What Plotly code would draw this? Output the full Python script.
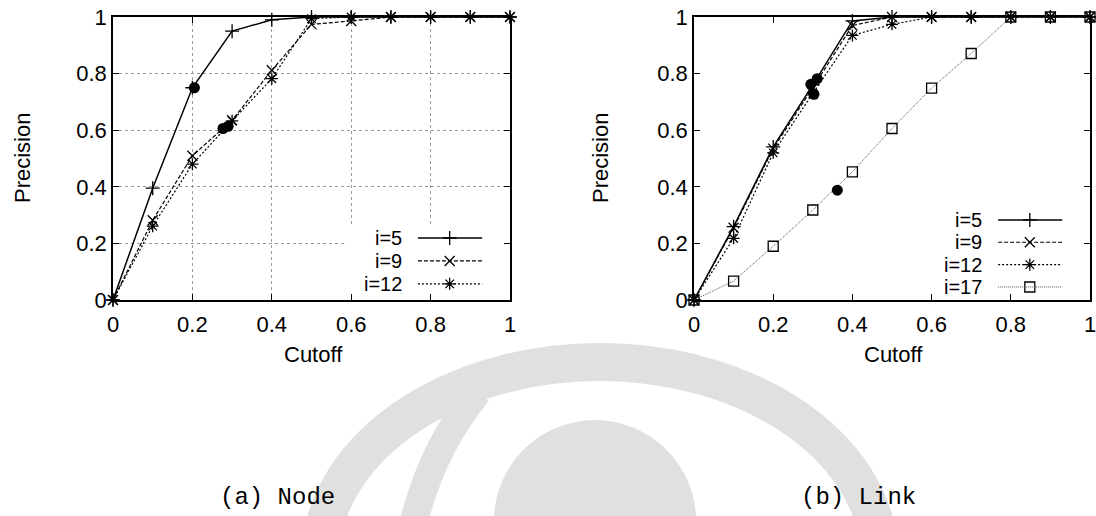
import plotly.graph_objects as go

# ---------------- data ----------------
cutoff = [0.0, 0.1, 0.2, 0.3, 0.4, 0.5, 0.6, 0.7, 0.8, 0.9, 1.0]

# (a) Node
node_i5 = [0.0, 0.395, 0.75, 0.95, 0.99, 1.0, 1.0, 1.0, 1.0, 1.0, 1.0]
node_i9 = [0.0, 0.282, 0.51, 0.635, 0.812, 0.974, 0.986, 1.0, 1.0, 1.0, 1.0]
node_i12 = [0.0, 0.261, 0.48, 0.633, 0.782, 0.994, 1.0, 1.0, 1.0, 1.0, 1.0]
node_pick_x = [0.205, 0.277, 0.29]
node_pick_y = [0.75, 0.606, 0.614]

# (b) Link
link_i5 = [0.0, 0.259, 0.541, 0.76, 0.986, 1.0, 1.0, 1.0, 1.0, 1.0, 1.0]
link_i9 = [0.0, 0.255, 0.535, 0.75, 0.97, 1.0, 1.0, 1.0, 1.0, 1.0, 1.0]
link_i12 = [0.0, 0.218, 0.52, 0.73, 0.935, 0.974, 1.0, 1.0, 1.0, 1.0, 1.0]
link_i17 = [0.0, 0.067, 0.19, 0.318, 0.453, 0.606, 0.749, 0.871, 1.0, 1.0, 1.0]
link_pick_x = [0.295, 0.311, 0.303, 0.362]
link_pick_y = [0.762, 0.782, 0.727, 0.388]

tick_vals = [0, 0.2, 0.4, 0.6, 0.8, 1]
tick_text = ["0", "0.2", "0.4", "0.6", "0.8", "1"]

series_names = ["i=5", "i=9", "i=12", "i=17"]

# ---------------- styles ----------------
W, H = 1096, 516
SANS = "Liberation Sans, Arial, Helvetica, sans-serif"
MONO = "Liberation Mono, Courier New, monospace"
FS = 22
KEY_FS = 20

styles = {
    "i=5": dict(dash="solid", width=1.5, color="black", symbol="cross-thin-open", msize=10),
    "i=9": dict(dash="4px,2px", width=1.2, color="black", symbol="x-thin-open", msize=10),
    "i=12": dict(dash="2px,2px", width=1.2, color="black", symbol="asterisk-open", msize=10),
    "i=17": dict(dash="1px,1px", width=1.0, color="#555555", symbol="square-open", msize=10),
}


def px_x(p):
    return p / W


def px_y(p):
    return 1 - p / H


fig = go.Figure()


def add_series(name, xs, ys, xa, ya):
    st = styles[name]
    fig.add_trace(go.Scatter(
        x=xs, y=ys, mode="lines+markers", name=name, xaxis=xa, yaxis=ya,
        line=dict(color=st["color"], width=st["width"], dash=st["dash"]),
        marker=dict(symbol=st["symbol"], size=st["msize"],
                    color="black", line=dict(color="black", width=1.3)),
        cliponaxis=False, showlegend=False,
    ))


def add_picks(xs, ys, xa, ya):
    fig.add_trace(go.Scatter(
        x=xs, y=ys, mode="markers", xaxis=xa, yaxis=ya,
        marker=dict(symbol="circle", size=11, color="black"),
        cliponaxis=False, showlegend=False,
    ))


add_series("i=5", cutoff, node_i5, "x", "y")
add_series("i=9", cutoff, node_i9, "x", "y")
add_series("i=12", cutoff, node_i12, "x", "y")
add_picks(node_pick_x, node_pick_y, "x", "y")

add_series("i=5", cutoff, link_i5, "x2", "y2")
add_series("i=9", cutoff, link_i9, "x2", "y2")
add_series("i=12", cutoff, link_i12, "x2", "y2")
add_series("i=17", cutoff, link_i17, "x2", "y2")
add_picks(link_pick_x, link_pick_y, "x2", "y2")

# ---------------- keys (text on the left, sample on the right) ----------------
shapes = []
annotations = []


def add_key(names, xa, ya, top, step, box):
    xref, yref = xa, ya
    if box:
        shapes.append(dict(type="rect", xref=xref, yref=yref, x0=box[0], x1=box[1],
                           y0=box[2], y1=box[3], fillcolor="white",
                           line=dict(width=0), layer="between"))
    for k, name in enumerate(names):
        st = styles[name]
        yk = top - k * step
        annotations.append(dict(xref=xref, yref=yref, x=0.73, y=yk, text=name,
                                showarrow=False, xanchor="right", yanchor="middle",
                                borderpad=0,
                                font=dict(family=SANS, size=KEY_FS, color="black")))
        shapes.append(dict(type="line", xref=xref, yref=yref, x0=0.768, x1=0.93,
                           y0=yk, y1=yk, layer="above",
                           line=dict(color=st["color"], width=st["width"], dash=st["dash"])))
        fig.add_trace(go.Scatter(
            x=[0.848], y=[yk], mode="markers", xaxis=xa, yaxis=ya,
            marker=dict(symbol=st["symbol"], size=st["msize"], color="black",
                        line=dict(color="black", width=1.3)),
            showlegend=False, hoverinfo="skip", cliponaxis=False,
        ))


add_key(series_names[:3], "x", "y", 0.219, 0.081, (0.59, 1.0, 0.0, 0.26))
add_key(series_names, "x2", "y2", 0.283, 0.079, None)

# ---------------- background emblem ----------------
EMB = "#e0e0e0"
lid = "M {},{} Q {},{} {},{}".format(
    px_x(478), px_y(392), px_x(430), px_y(450), px_x(412), px_y(530),
)
shapes.append(dict(type="circle", xref="paper", yref="paper",
                   x0=px_x(320), x1=px_x(880), y0=px_y(760), y1=px_y(362),
                   fillcolor="rgba(0,0,0,0)", line=dict(color=EMB, width=38),
                   layer="below"))
shapes.append(dict(type="path", xref="paper", yref="paper", path=lid,
                   line=dict(color=EMB, width=28), layer="below"))
shapes.append(dict(type="circle", xref="paper", yref="paper",
                   x0=px_x(494), x1=px_x(696), y0=px_y(622), y1=px_y(420),
                   fillcolor=EMB, line=dict(width=0), layer="below"))

# ---------------- axis titles and captions ----------------
title_font = dict(family=SANS, size=FS, color="black")


def label(x, y, text, font, angle=0):
    annotations.append(dict(xref="paper", yref="paper", x=px_x(x), y=px_y(y),
                            text=text, textangle=angle, showarrow=False,
                            xanchor="center", yanchor="middle", font=font))


label(22, 158, "Precision", title_font, -90)
label(600, 158, "Precision", title_font, -90)
label(313, 354, "Cutoff", title_font)
label(893, 354, "Cutoff", title_font)
label(277, 497, "(a) Node", dict(family=MONO, size=24, color="black"))
label(858, 497, "(b) Link", dict(family=MONO, size=24, color="black"))


# ---------------- axes ----------------
def axis(domain, grid, anchor, standoff):
    return dict(
        domain=domain, range=[0, 1], anchor=anchor, automargin=False,
        tickmode="array", tickvals=tick_vals, ticktext=tick_text,
        ticks="inside", ticklen=6, tickwidth=1, tickcolor="black",
        ticklabelstandoff=standoff, ticklabeloverflow="allow",
        showline=True, linecolor="black", linewidth=1.5, mirror="ticks",
        showgrid=grid, gridcolor="#9a9a9a", gridwidth=1, griddash="dot",
        zeroline=False, tickfont=dict(family=SANS, size=FS, color="black"),
        fixedrange=True,
    )


ydom = [px_y(300), px_y(17)]
fig.update_layout(
    width=W, height=H,
    margin=dict(l=0, r=0, t=0, b=0, autoexpand=False),
    paper_bgcolor="white", plot_bgcolor="rgba(0,0,0,0)",
    xaxis=axis([px_x(113), px_x(510)], True, "y", 4),
    yaxis=axis(ydom, True, "x", 0),
    xaxis2=axis([px_x(694), px_x(1090)], False, "y2", 4),
    yaxis2=axis(ydom, False, "x2", 0),
    shapes=shapes, annotations=annotations,
    showlegend=False,
)

fig.write_html("out.html")
